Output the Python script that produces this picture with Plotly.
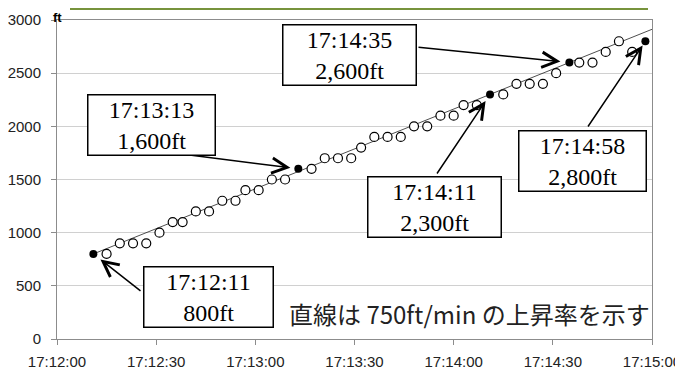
import plotly.graph_objects as go

# ---- data ----
x_tick_seconds = [0, 30, 60, 90, 120, 150, 180]
x_tick_labels = ["17:12:00", "17:12:30", "17:13:00", "17:13:30", "17:14:00", "17:14:30", "17:15:00"]
y_tick_values = [0, 500, 1000, 1500, 2000, 2500, 3000]

# seconds after 17:12:00
open_t = [15, 19, 23, 27, 31, 35, 38, 42, 46, 50, 54, 57, 61, 65, 69,
          77, 81, 85, 89, 92, 96, 100, 104, 108, 112, 116, 120, 123, 127,
          135, 139, 143, 147, 151, 158, 162, 166, 170, 174]
open_ft = [800, 900, 900, 900, 1000, 1100, 1100, 1200, 1200, 1300, 1300, 1400, 1400, 1500, 1500,
           1600, 1700, 1700, 1700, 1800, 1900, 1900, 1900, 2000, 2000, 2100, 2100, 2200, 2200,
           2300, 2400, 2400, 2400, 2500, 2600, 2600, 2700, 2800, 2700]

key_t = [11, 73, 131, 155, 178]
key_ft = [800, 1600, 2300, 2600, 2800]
key_labels = ["17:12:11<br>800ft", "17:13:13<br>1,600ft", "17:14:11<br>2,300ft",
              "17:14:35<br>2,600ft", "17:14:58<br>2,800ft"]

# 750 ft/min reference line endpoints
line_t = [11, 180]
line_ft = [800, 2912.5]

note_text = "直線は 750ft/min の上昇率を示す"

# ---- layout geometry (screen pixels of the 683x369 picture) ----
OFF = 8                      # default page body margin
W, H = 683 - OFF, 369 - OFF  # figure size so the page fits the window exactly
L, R, T, B = 57, 652, 20, 339  # plot area on screen


def px_t(px):
    return (px - L) / (R - L) * 180


def py_ft(py):
    return (B - py) / (B - T) * 3000


def ppx(px):
    return (px - L) / (R - L)


def ppy(py):
    return (B - py) / (B - T)


fig = go.Figure()
fig.add_trace(go.Scatter(x=line_t, y=line_ft, mode="lines",
                         line=dict(color="#222222", width=0.8), hoverinfo="skip"))
fig.add_trace(go.Scatter(x=open_t, y=open_ft, mode="markers",
                         marker=dict(symbol="circle", size=9, color="white",
                                     line=dict(color="black", width=1.2))))
fig.add_trace(go.Scatter(x=key_t, y=key_ft, mode="markers",
                         marker=dict(symbol="circle", size=8, color="black",
                                     line=dict(color="black", width=0))))

# box centres (px) and arrow tails (px), standoffs
box_centers = [(208.5, 297), (151.5, 125), (434.5, 206.5), (349.5, 55), (582, 160.5)]
box_widths = [126, 124, 130, 130, 124]
arrow_tails = [(142, 292), (190, 155), (436, 175), (417, 47), (587, 128)]
standoffs = [9, 8, 8, 9, 5]

annotations = []
for i in range(len(key_t)):
    tx, ty = arrow_tails[i]
    annotations.append(dict(
        x=key_t[i], y=key_ft[i], xref="x", yref="y",
        ax=px_t(tx), ay=py_ft(ty), axref="x", ayref="y",
        text="", showarrow=True, arrowhead=5, arrowsize=2.0, arrowwidth=1.5,
        arrowcolor="black", standoff=standoffs[i]))
for i in range(len(key_t)):
    cx, cy = box_centers[i]
    annotations.append(dict(
        x=ppx(cx), y=ppy(cy), xref="paper", yref="paper",
        xanchor="center", yanchor="middle", showarrow=False,
        text=key_labels[i], width=box_widths[i],
        font=dict(family="Liberation Serif", size=24, color="black"),
        bgcolor="white", bordercolor="black", borderwidth=1.5, borderpad=1))

annotations.append(dict(
    x=ppx(287), y=ppy(313), xref="paper", yref="paper",
    xanchor="left", yanchor="middle", showarrow=False, text=note_text,
    font=dict(family="Noto Sans CJK JP", size=24, color="#222222")))
annotations.append(dict(
    x=ppx(57.5), y=ppy(OFF), xref="paper", yref="paper",
    xanchor="center", yanchor="top", showarrow=False, text="<b>ft</b>",
    font=dict(family="Liberation Sans", size=13, color="black")))

fig.update_layout(
    width=W, height=H,
    margin=dict(l=L - OFF, r=W - (R - OFF), t=T - OFF, b=H - (B - OFF), autoexpand=False),
    paper_bgcolor="white", plot_bgcolor="white",
    showlegend=False,
    annotations=annotations,
    shapes=[dict(type="line", xref="paper", yref="paper",
                 x0=ppx(70), x1=ppx(648), y0=ppy(OFF + 1), y1=ppy(OFF + 1),
                 line=dict(color="#77933C", width=2))],
    xaxis=dict(range=[0, 180], tickmode="array", tickvals=x_tick_seconds, ticktext=x_tick_labels,
               showgrid=False, zeroline=False, showline=True, linecolor="#8c8c8c", linewidth=1,
               mirror=True, ticks="outside", ticklen=5, tickcolor="#8c8c8c",
               ticklabelstandoff=4,
               tickfont=dict(family="Liberation Sans", size=15, color="#222222")),
    yaxis=dict(range=[0, 3000], tickmode="array", tickvals=y_tick_values,
               showgrid=True, gridcolor="#d0d0d0", gridwidth=1, zeroline=False,
               showline=True, linecolor="#8c8c8c", linewidth=1, mirror=True,
               ticks="outside", ticklen=5, tickcolor="#8c8c8c",
               ticklabelstandoff=7,
               tickfont=dict(family="Liberation Sans", size=15, color="#222222")),
)

fig.write_html("out.html")
